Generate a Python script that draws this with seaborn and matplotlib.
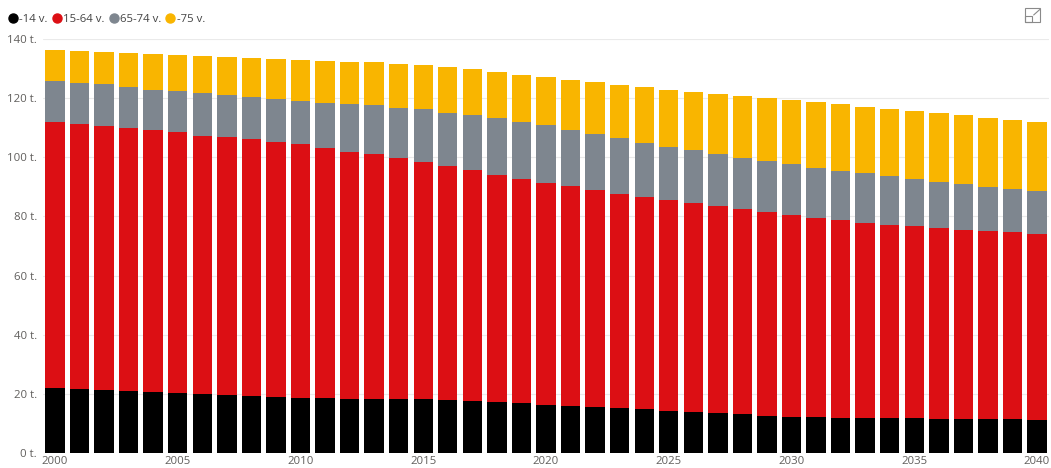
import numpy as np
import pandas as pd
import seaborn as sns
import matplotlib.pyplot as plt
from matplotlib.lines import Line2D
from matplotlib.patches import Rectangle

years = list(range(2000, 2041))

# population by age group, thousands
age_0_14 = [21.9, 21.7, 21.3, 21.0, 20.6, 20.3, 20.0, 19.6, 19.3, 18.9,
            18.7, 18.5, 18.4, 18.4, 18.3, 18.2, 17.8, 17.6, 17.1, 16.8,
            16.3, 16.0, 15.6, 15.1, 14.8, 14.3, 13.9, 13.4, 13.1, 12.6,
            12.3, 12.1, 11.9, 11.8, 11.7, 11.7, 11.5, 11.5, 11.5, 11.4,
            11.3]
age_15_64 = [90.0, 89.7, 89.4, 88.9, 88.5, 88.3, 87.3, 87.2, 86.8, 86.4,
             85.7, 84.6, 83.5, 82.6, 81.4, 80.1, 79.4, 78.2, 77.0, 76.0,
             75.0, 74.2, 73.4, 72.6, 71.9, 71.3, 70.5, 70.0, 69.3, 68.8,
             68.2, 67.5, 66.9, 66.1, 65.5, 64.9, 64.5, 64.0, 63.7, 63.2,
             62.8]
age_65_74 = [13.8, 13.8, 13.9, 13.9, 13.8, 13.8, 14.4, 14.2, 14.4, 14.4,
             14.7, 15.4, 16.1, 16.6, 17.0, 17.9, 17.8, 18.5, 19.1, 19.2,
             19.5, 19.1, 19.0, 18.7, 18.2, 18.0, 18.1, 17.7, 17.5, 17.3,
             17.1, 16.9, 16.7, 16.7, 16.4, 16.1, 15.8, 15.5, 14.9, 14.8,
             14.6]
age_75 = [10.6, 10.8, 11.1, 11.6, 12.0, 12.3, 12.7, 12.9, 13.1, 13.4,
          13.7, 14.0, 14.3, 14.5, 14.9, 15.0, 15.4, 15.5, 15.5, 15.9,
          16.2, 16.9, 17.3, 18.1, 18.8, 19.3, 19.7, 20.4, 20.8, 21.4,
          21.7, 22.1, 22.4, 22.5, 22.8, 22.9, 23.2, 23.2, 23.3, 23.3,
          23.3]

labels = ['-14 v.', '15-64 v.', '65-74 v.', '-75 v.']
colors = ['#000000', '#DC0F14', '#7E868F', '#F9B500']

df = pd.DataFrame({'year': [str(y) for y in years],
                   labels[0]: age_0_14, labels[1]: age_15_64,
                   labels[2]: age_65_74, labels[3]: age_75})
cum = df[labels].cumsum(axis=1)

sns.set_style('white')
plt.rcParams['font.family'] = ['Open Sans', 'DejaVu Sans']

fig = plt.figure(figsize=(10.51, 4.68), dpi=100)
ax = fig.add_axes([0.0406, 0.032, 0.9578, 0.8848])

# stacked bars: draw cumulative totals from top group down
for lab, col in zip(labels[::-1], colors[::-1]):
    sns.barplot(x=df['year'], y=cum[lab], color=col, saturation=1,
                width=0.79, linewidth=0, ax=ax, zorder=3)

ax.set_ylim(0, 140)
ax.set_xlim(-0.5, len(years) - 0.5)
ax.set_yticks(range(0, 141, 20))
ax.set_yticklabels([f'{v} t.' for v in range(0, 141, 20)])
ax.set_xticks(range(0, len(years), 5))
ax.set_xticklabels([str(y) for y in years[::5]])
ax.tick_params(axis='both', length=0, labelsize=8.2, colors='#605E5C')
ax.tick_params(axis='y', pad=4)
ax.tick_params(axis='x', pad=2.5)
ax.set_xlabel('')
ax.set_ylabel('')
ax.yaxis.grid(True, color='#EAEAEA', linewidth=0.8, zorder=0)
ax.set_axisbelow(True)
for s in ax.spines.values():
    s.set_visible(False)

handles = [Line2D([0], [0], marker='o', linestyle='', markersize=6.5,
                  markerfacecolor=c, markeredgecolor=c) for c in colors]
fig.legend(handles, labels, loc='upper left', bbox_to_anchor=(-0.003, 0.993),
           ncol=4, frameon=False, fontsize=8.2, handletextpad=0.05,
           columnspacing=0.3, handlelength=1.0, labelcolor='#444444')

# expand icon top right
fig.add_artist(Rectangle((0.9755, 0.952), 0.0145, 0.03, fill=False,
                         edgecolor='#8A8A8A', linewidth=0.8,
                         transform=fig.transFigure))
fig.add_artist(Rectangle((0.9755, 0.952), 0.006, 0.013, fill=False,
                         edgecolor='#8A8A8A', linewidth=0.8,
                         transform=fig.transFigure))
fig.add_artist(Line2D([0.9835, 0.9895], [0.968, 0.980], color='#8A8A8A',
                      linewidth=0.8, transform=fig.transFigure))

fig.savefig('out.png', dpi=100)
